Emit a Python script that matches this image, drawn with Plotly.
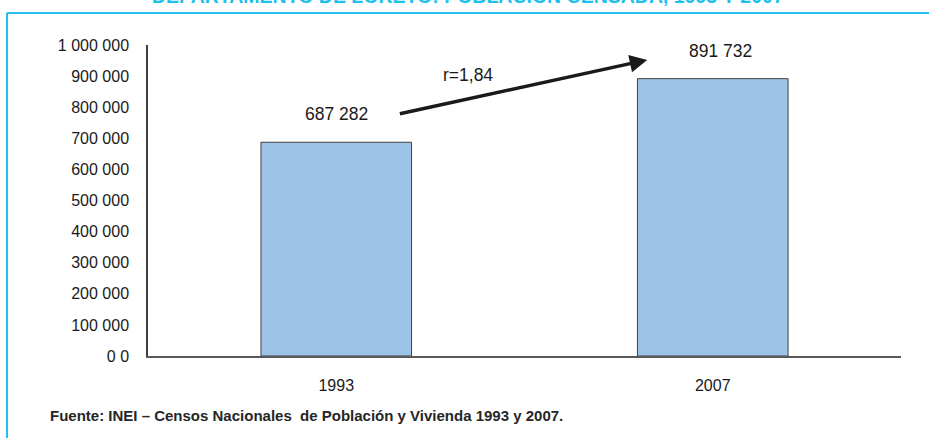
import plotly.graph_objects as go

categories = ["1993", "2007"]
population = [687282, 891732]
bar_labels = ["687 282", "891 732"]
tick_values = [0, 100000, 200000, 300000, 400000, 500000, 600000, 700000, 800000, 900000, 1000000]
tick_labels = ["0 0", "100 000", "200 000", "300 000", "400 000", "500 000",
               "600 000", "700 000", "800 000", "900 000", "1 000 000"]
growth_text = "r=1,84"
title_text = "DEPARTAMENTO DE LORETO: POBLACIÓN CENSADA, 1993 Y 2007"
source_text = "Fuente: INEI – Censos Nacionales  de Población y Vivienda 1993 y 2007."

W, H = 929, 438
L, R, T, B = 148, 28, 45, 82
pw, ph = W - L - R, H - T - B

def px(x):
    return (x - L) / pw

def py(y):
    return (H - B - y) / ph

FONT = "Liberation Sans, Arial"
TXT = "#1a1a1a"
cyan = "#1FC0EE"

fig = go.Figure()
fig.add_trace(go.Bar(
    x=[0, 1], y=population, width=0.4,
    marker=dict(color="#9DC3E6", line=dict(color="#404040", width=1)),
    hoverinfo="skip",
))

# value labels above bars
for i, (v, lab) in enumerate(zip(population, bar_labels)):
    fig.add_annotation(x=i, y=v, xref="x", yref="y", text=lab, showarrow=False,
                       yshift=28, xshift=(0 if i == 0 else 8),
                       font=dict(family=FONT, size=17.5, color=TXT))

# frame lines
fig.add_shape(type="line", xref="paper", yref="paper",
              x0=px(7), x1=px(929), y0=py(13), y1=py(13),
              line=dict(color=cyan, width=2))
fig.add_shape(type="line", xref="paper", yref="paper",
              x0=px(7), x1=px(7), y0=py(13), y1=py(440),
              line=dict(color=cyan, width=2))

# clipped title (only its lower edge shows, as in the source page)
fig.add_annotation(xref="paper", yref="paper", x=px(468), y=py(-5),
                   text="<b>" + title_text + "</b>", showarrow=False,
                   font=dict(family=FONT, size=19.5, color=cyan),
                   xanchor="center", yanchor="middle")

# growth arrow
fig.add_annotation(x=0.826, y=952000, ax=0.165, ay=778000,
                   xref="x", yref="y", axref="x", ayref="y",
                   text="", showarrow=True, arrowhead=2, arrowsize=1.0,
                   arrowwidth=3.5, arrowcolor=TXT, standoff=0)
fig.add_annotation(x=px(468), y=py(63), xref="paper", yref="paper", text=growth_text,
                   showarrow=False, font=dict(family=FONT, size=17.5, color=TXT))

# source
fig.add_annotation(xref="paper", yref="paper", x=px(48), y=py(415),
                   text="<b>" + source_text + "</b>", showarrow=False,
                   xanchor="left", yanchor="middle",
                   font=dict(family=FONT, size=15, color="#262626"))

fig.update_layout(
    width=W, height=H, margin=dict(l=L, r=R, t=T, b=B),
    paper_bgcolor="white", plot_bgcolor="white", showlegend=False,
)
fig.update_xaxes(range=[-0.5, 1.5], tickvals=[0, 1], ticktext=categories,
                 showline=True, linecolor="#595959", linewidth=2,
                 showgrid=False, zeroline=False, ticks="", ticklabelstandoff=14,
                 tickfont=dict(family=FONT, size=16, color=TXT))
fig.update_yaxes(range=[0, 1000000], tickvals=tick_values, ticktext=tick_labels,
                 showline=True, linecolor="#404040", linewidth=1.5,
                 showgrid=False, zeroline=False, ticks="", ticklabelstandoff=14,
                 tickfont=dict(family=FONT, size=16, color=TXT))

fig.write_html("out.html", config={"displayModeBar": False},
               post_script="document.body.style.margin='0';document.body.style.overflow='hidden';")
